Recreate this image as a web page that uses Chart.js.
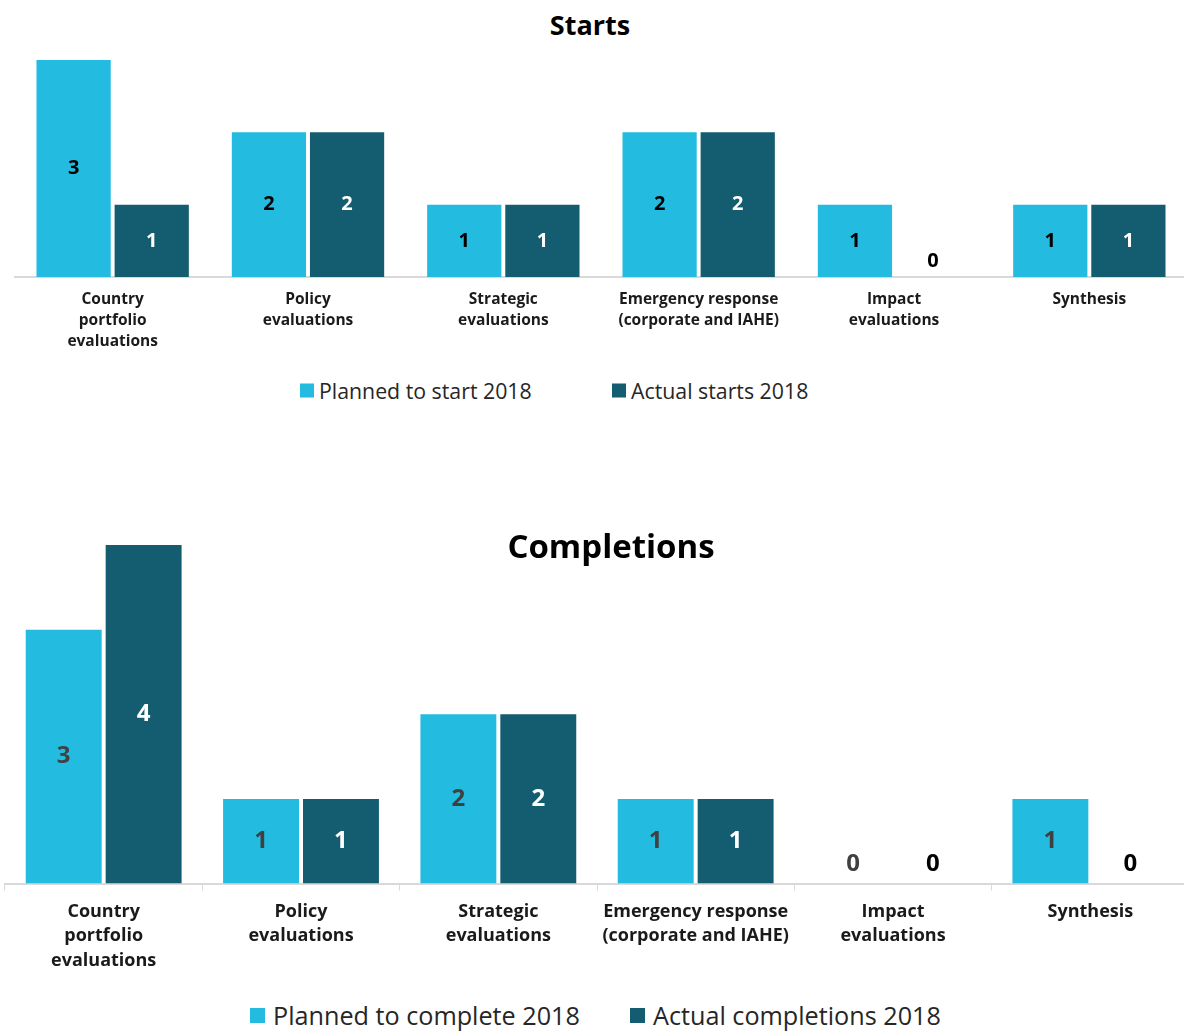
<!DOCTYPE html>
<html>
<head>
<meta charset="utf-8">
<script src="https://cdn.jsdelivr.net/npm/chart.js@4.4.1/dist/chart.umd.min.js"></script>
<style>
  html, body { margin: 0; padding: 0; background: #fff; overflow: hidden; }
  body { width: 1184px; height: 1032px; position: relative; font-family: 'Open Sans', sans-serif; }
  .box { position: absolute; left: 0; width: 1190px; }
  .title { position: absolute; font-weight: bold; color: #000; transform: translate(-50%, -50%); white-space: nowrap; line-height: 1; }
  .legend { position: absolute; left: 0; width: 1184px; color: #262626; }
  .legend .item { position: absolute; display: flex; align-items: center; transform: translateY(-50%); white-space: nowrap; }
  .legend .swatch { display: inline-block; }
</style>
</head>
<body>
<div class="title" style="left:590px; top:24px; font-size:27px;">Starts</div>
<div class="box" style="top:0; height:364px;"><canvas id="startsChart"></canvas></div>
<div class="legend" id="startsLegend" style="top:390px;"></div>

<div class="box" style="top:480px; height:502px;"><canvas id="completionsChart"></canvas></div>
<div class="title" style="left:611px; top:545px; font-size:33px;">Completions</div>
<div class="legend" id="completionsLegend" style="top:1015px;"></div>

<script>
const categories = [
  ['Country', 'portfolio', 'evaluations'],
  ['Policy', 'evaluations'],
  ['Strategic', 'evaluations'],
  ['Emergency response', '(corporate and IAHE)'],
  ['Impact', 'evaluations'],
  ['Synthesis']
];

const plannedStarts = [3, 2, 1, 2, 1, 1];
const actualStarts = [1, 2, 1, 2, 0, 1];
const plannedCompletions = [3, 1, 2, 1, 0, 1];
const actualCompletions = [4, 1, 2, 1, 0, 0];

const lightBlue = '#23BBE0';
const darkTeal = '#145C6F';
const axisGrey = '#D9D9D9';

// draws the value in the middle of each bar, zeros just above the axis
const barValues = {
  id: 'barValues',
  afterDatasetsDraw(chart, args, opts) {
    const ctx = chart.ctx;
    ctx.save();
    ctx.font = 'bold ' + opts.size + 'px "Open Sans"';
    ctx.textAlign = 'center';
    ctx.textBaseline = 'middle';
    chart.data.datasets.forEach(function(ds, i) {
      const meta = chart.getDatasetMeta(i);
      meta.data.forEach(function(bar, j) {
        const v = ds.data[j];
        const p = bar.getProps(['x', 'y', 'base'], true);
        let y;
        if (v > 0) {
          y = (p.y + p.base) / 2;
          ctx.fillStyle = opts.colors[i];
        } else {
          y = p.base - opts.zeroOffset;
          ctx.fillStyle = opts.zeroColors[i];
        }
        ctx.fillText(String(v), p.x, y);
      });
    });
    ctx.restore();
  }
};

function makeChart(id, planned, actual, labels, cfg) {
  const ctx = document.getElementById(id).getContext('2d');
  return new Chart(ctx, {
    type: 'bar',
    data: {
      labels: categories,
      datasets: [{
        label: labels[0],
        data: planned,
        backgroundColor: lightBlue,
        categoryPercentage: cfg.catPct,
        barPercentage: 0.95
      }, {
        label: labels[1],
        data: actual,
        backgroundColor: darkTeal,
        categoryPercentage: cfg.catPct,
        barPercentage: 0.95
      }]
    },
    options: {
      responsive: true,
      maintainAspectRatio: false,
      animation: false,
      layout: { padding: cfg.padding },
      plugins: {
        legend: { display: false },
        tooltip: { enabled: false },
        barValues: {
          size: cfg.valueSize,
          zeroOffset: cfg.zeroOffset,
          colors: cfg.valueColors,
          zeroColors: cfg.zeroColors
        }
      },
      scales: {
        x: {
          grid: cfg.grid,
          border: { display: true, color: axisGrey, width: 2 },
          ticks: {
            color: '#1a1a1a',
            padding: cfg.tickPad,
            maxRotation: 0,
            autoSkip: false,
            font: { family: 'Open Sans', weight: 'bold', size: cfg.labelSize, lineHeight: cfg.lineHeight }
          }
        },
        y: { display: false, min: 0, max: cfg.max }
      }
    },
    plugins: [barValues]
  });
}

function buildLegend(chart, elId, cfg) {
  const el = document.getElementById(elId);
  chart.data.datasets.forEach(function(ds, i) {
    const item = document.createElement('div');
    item.className = 'item';
    item.style.left = cfg.left[i] + 'px';
    item.style.fontSize = cfg.fontSize + 'px';
    const sw = document.createElement('span');
    sw.className = 'swatch';
    sw.style.width = cfg.box + 'px';
    sw.style.height = cfg.box + 'px';
    sw.style.marginRight = cfg.gap + 'px';
    sw.style.background = ds.backgroundColor;
    const txt = document.createElement('span');
    txt.textContent = ds.label;
    item.appendChild(sw);
    item.appendChild(txt);
    el.appendChild(item);
  });
}

const startsChart = makeChart('startsChart', plannedStarts, actualStarts,
  ['Planned to start 2018', 'Actual starts 2018'], {
    catPct: 0.80,
    padding: { top: 60, left: 15, right: 3, bottom: 0 },
    max: 3,
    grid: { display: false, drawTicks: false },
    tickPad: 12,
    labelSize: 15.5,
    lineHeight: 1.355,
    valueSize: 20,
    zeroOffset: 16,
    valueColors: ['#000000', '#ffffff'],
    zeroColors: ['#000000', '#000000']
  });

const completionsChart = makeChart('completionsChart', plannedCompletions, actualCompletions,
  ['Planned to complete 2018', 'Actual completions 2018'], {
    catPct: 0.81,
    padding: { top: 65, left: 5, right: 1, bottom: 0 },
    max: 4,
    grid: { display: true, drawOnChartArea: false, drawTicks: true, tickLength: 7, color: axisGrey, lineWidth: 1 },
    tickPad: 9,
    labelSize: 18,
    lineHeight: 1.36,
    valueSize: 24,
    zeroOffset: 19,
    valueColors: ['#404040', '#ffffff'],
    zeroColors: ['#404040', '#000000']
  });

buildLegend(startsChart, 'startsLegend', { left: [300, 612], fontSize: 21.3, box: 14, gap: 5 });
buildLegend(completionsChart, 'completionsLegend', { left: [250, 630], fontSize: 25.2, box: 15, gap: 8 });
</script>
</body>
</html>
